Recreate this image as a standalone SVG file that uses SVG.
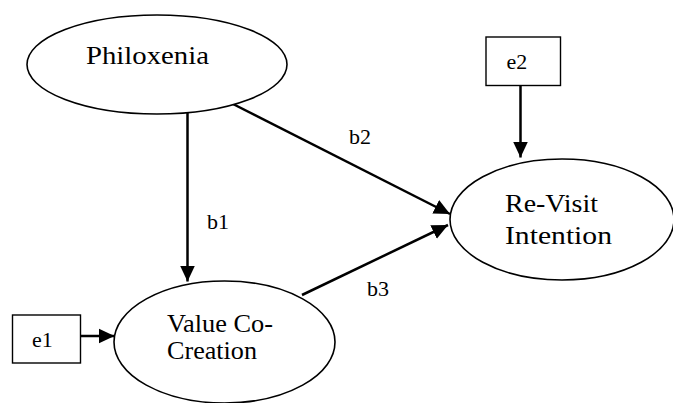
<svg xmlns="http://www.w3.org/2000/svg" width="673" height="403" viewBox="0 0 673 403">
  <style>
    .construct { fill: #ffffff; stroke: #000000; stroke-width: 1.6; }
    .error { fill: #ffffff; stroke: #000000; stroke-width: 1.4; }
    text { font-family: 'Liberation Serif', 'DejaVu Serif', serif; fill: #000000; }
    .big { font-size: 26px; }
    .small { font-size: 22px; }
    .path { stroke: #000000; stroke-width: 2.5; fill: none; marker-end: url(#arrow); }
  </style>
  <defs>
    <marker id="arrow" markerUnits="userSpaceOnUse" markerWidth="16" markerHeight="16" refX="16" refY="8" orient="auto">
      <path d="M0,0.5 L16,8 L0,15.5 z" fill="#000000"/>
    </marker>
  </defs>
  <rect width="673" height="403" fill="#ffffff"/>

  <g id="connectors">
    <line class="path" x1="187.5" y1="113" x2="187.5" y2="281.5"/>
    <line class="path" x1="233" y1="104" x2="450" y2="214"/>
    <line class="path" x1="302" y1="295" x2="448" y2="225"/>
    <line class="path" x1="520.5" y1="86" x2="520.5" y2="157.5"/>
    <line class="path" x1="80.5" y1="336" x2="114.5" y2="336"/>
    <text class="small" font-family="Liberation Serif, serif" x="207" y="229">b1</text>
    <text class="small" font-family="Liberation Serif, serif" x="349" y="144">b2</text>
    <text class="small" font-family="Liberation Serif, serif" x="367" y="296">b3</text>
  </g>

  <g id="philoxenia">
    <ellipse class="construct" cx="157" cy="64.5" rx="130" ry="49.5"/>
    <text class="big" x="86" y="64" font-size="27" textLength="123" lengthAdjust="spacingAndGlyphs">Philoxenia</text>
  </g>

  <g id="value-co-creation">
    <ellipse class="construct" cx="224.5" cy="342" rx="110.5" ry="61"/>
    <text class="big" x="167" y="332" textLength="106" lengthAdjust="spacingAndGlyphs">Value Co-</text>
    <text class="big" x="167" y="359" textLength="90" lengthAdjust="spacingAndGlyphs">Creation</text>
  </g>

  <g id="revisit-intention">
    <ellipse class="construct" cx="562" cy="219.5" rx="112" ry="60.5"/>
    <text class="big" x="505" y="212" textLength="93" lengthAdjust="spacingAndGlyphs">Re-Visit</text>
    <text class="big" x="505" y="244" textLength="107" lengthAdjust="spacingAndGlyphs">Intention</text>
  </g>

  <g id="e1">
    <rect class="error" x="12.5" y="315" width="68" height="48"/>
    <text class="small" x="32" y="347">e1</text>
  </g>

  <g id="e2">
    <rect class="error" x="486" y="37" width="74.5" height="48.5"/>
    <text class="small" x="506.5" y="69">e2</text>
  </g>
</svg>
